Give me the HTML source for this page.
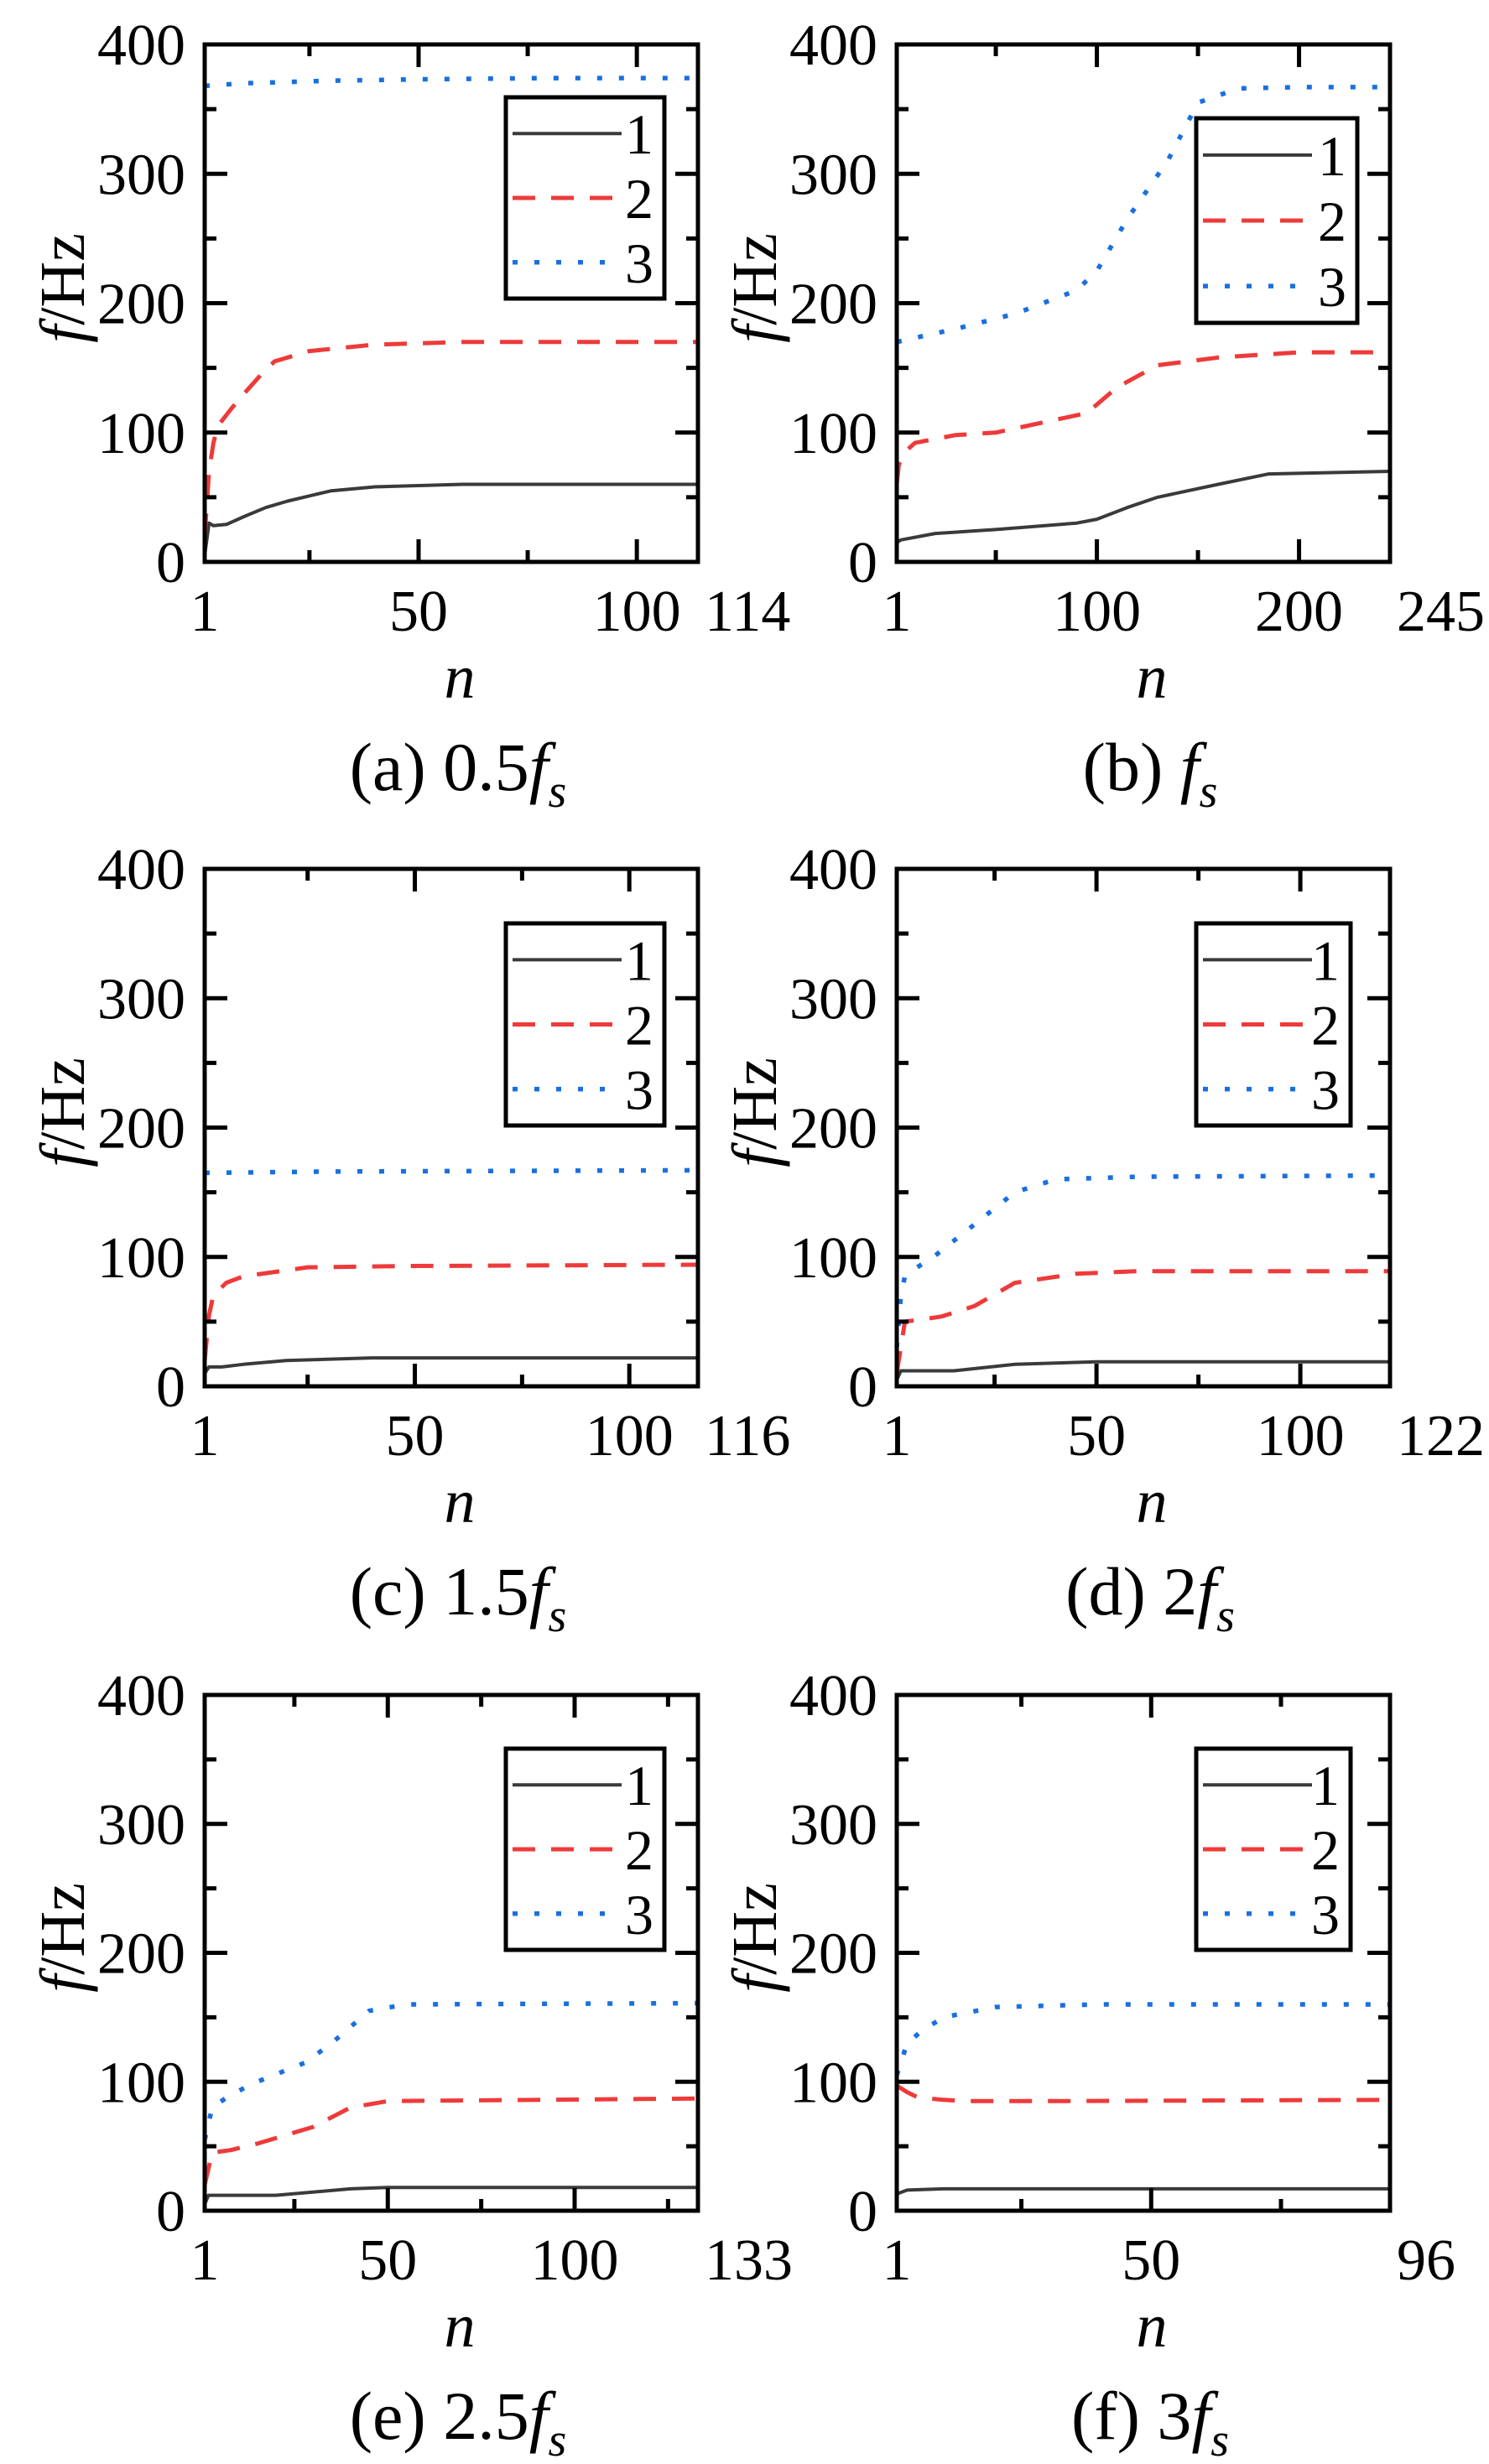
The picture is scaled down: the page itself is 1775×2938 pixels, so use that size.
<!DOCTYPE html>
<html><head><meta charset="utf-8">
<style>
html,body{margin:0;padding:0;background:#fff}
svg{display:block}
text{font-family:"Liberation Serif",serif;fill:#000}
</style></head>
<body>
<svg id="fig" width="1775" height="2938" viewBox="0 0 1775 2938" xmlns="http://www.w3.org/2000/svg"></svg>
<script>
// ---- data ----
const panelIds = ['a','b','c','d','e','f'];
const captions = ['0.5','','1.5','2','2.5','3'];
const xMaxes = [114,245,116,122,133,96];
const xMajor = [[1,50,100],[1,100,200],[1,50,100],[1,50,100],[1,50,100],[1,50]];
const xMinor = [[25,75],[50,150],[25,75],[25,75],[25,75,125],[25,75]];
const yTicks = [0,100,200,300,400];
const seriesNames = ['1','2','3'];
const a1n=[1,2,3,6,10,15,20,25,30,40,50,60,80,114], a1f=[5,30,28,29,35,42,47,51,55,58,59,60,60,60];
const a2n=[1,2,3,4,7,10,14,17,25,40,60,114], a2f=[20,70,92,105,118,130,145,155,163,168,170,170];
const a3n=[1,10,30,50,80,114], a3f=[368,370,372,373,374,374];
const b1n=[1,3,20,50,90,100,115,130,160,185,245], b1f=[15,17,22,25,30,33,42,50,60,68,70];
const b2n=[1,2,5,10,30,50,80,95,110,130,160,200,245], b2f=[60,75,85,92,98,100,110,115,135,152,158,162,162];
const b3n=[1,15,30,60,90,100,115,135,150,170,200,245], b3f=[170,175,180,192,210,225,265,310,355,366,367,367];
const c1n=[1,2,5,10,20,40,116], c1f=[10,15,15,17,20,22,22];
const c2n=[1,2,3,6,10,25,50,116], c2f=[20,55,70,80,85,92,93,94];
const c3n=[1,30,116], c3f=[165,166,167];
const d1n=[1,2,15,30,50,122], d1f=[5,12,12,17,19,19];
const d2n=[1,3,8,12,20,30,45,60,122], d2f=[10,50,52,54,62,80,87,89,89];
const d3n=[1,2,3,6,10,20,30,40,60,122], d3f=[30,70,85,92,100,125,150,160,162,163];
const e1n=[1,2,20,40,50,133], e1f=[5,12,12,17,18,18];
const e2n=[1,3,8,15,30,40,50,133], e2f=[20,45,47,52,65,80,85,87];
const e3n=[1,3,8,15,28,35,45,55,133], e3f=[55,80,90,100,115,130,155,160,161];
const f1n=[1,3,10,96], f1f=[13,16,17,17];
const f2n=[1,3,5,10,15,30,96], f2f=[97,92,88,86,85,85,86];
const f3n=[1,3,6,10,20,40,96], f3f=[105,130,140,150,158,160,160];
const seriesN = [[a1n,a2n,a3n],[b1n,b2n,b3n],[c1n,c2n,c3n],[d1n,d2n,d3n],[e1n,e2n,e3n],[f1n,f2n,f3n]];
const seriesF = [[a1f,a2f,a3f],[b1f,b2f,b3f],[c1f,c2f,c3f],[d1f,d2f,d3f],[e1f,e2f,e3f],[f1f,f2f,f3f]];

// ---- layout ----
const NS='http://www.w3.org/2000/svg';
const svg=document.getElementById('fig');
const colX=[[244,832],[1069,1657]];
const rowY=[[53,670],[1036,1653],[2021,2636]];
const legendBoxes=[[603,116,792,356],[1426,141,1618,385],[603,1101,792,1342],[1426,1101,1610,1342],[603,2085,792,2325],[1426,2085,1610,2325]];
const styles=[{c:'#3a3a3a',w:4,d:''},{c:'#ee3a3a',w:5,d:'27 19'},{c:'#1a6fe0',w:5.5,d:'6 20'}];

function mk(tag,attrs,parent){const e=document.createElementNS(NS,tag);for(const k in attrs)e.setAttribute(k,attrs[k]);(parent||svg).appendChild(e);return e;}

panelIds.forEach((id,p)=>{
  const col=p%2,row=Math.floor(p/2);
  const [L,R]=colX[col],[T,B]=rowY[row];
  const xmax=xMaxes[p];
  const X=v=>L+(v-1)/(xmax-1)*(R-L);
  const Y=v=>B-v/400*(B-T);
  const g=mk('g',{});
  
  
  for(let s=0;s<3;s++){
    const pts=seriesN[p][s].map((n,i)=>X(n).toFixed(1)+','+Y(seriesF[p][s][i]).toFixed(1)).join(' ');
    const pl=mk('polyline',{points:pts,fill:'none',stroke:styles[s].c,'stroke-width':styles[s].w,'stroke-dasharray':styles[s].d,'stroke-linejoin':'round'},g);
    
    
  }
  const fr=mk('rect',{x:L,y:T,width:R-L,height:B-T,fill:'none',stroke:'#000','stroke-width':5},g);
  
  
  for(let v=0;v<=400;v+=50){
    const len=v%100===0?27:14;
    mk('line',{x1:L,x2:L+len,y1:Y(v),y2:Y(v),stroke:'#000','stroke-width':5},g);
    mk('line',{x1:R,x2:R-len,y1:Y(v),y2:Y(v),stroke:'#000','stroke-width':5},g);
  }
  yTicks.forEach(v=>{
    const t=mk('text',{x:L-23,y:Y(v)+24,'font-size':70,'text-anchor':'end'},g);
    t.textContent=v;
    
    
  });
  xMajor[p].forEach(v=>{
    mk('line',{x1:X(v),x2:X(v),y1:B,y2:B-27,stroke:'#000','stroke-width':5},g);
    mk('line',{x1:X(v),x2:X(v),y1:T,y2:T+27,stroke:'#000','stroke-width':5},g);
    const t=mk('text',{x:X(v),y:B+82,'font-size':70,'text-anchor':'middle'},g);
    t.textContent=v;
    
    
  });
  xMinor[p].forEach(v=>{
    mk('line',{x1:X(v),x2:X(v),y1:B,y2:B-14,stroke:'#000','stroke-width':5},g);
    mk('line',{x1:X(v),x2:X(v),y1:T,y2:T+14,stroke:'#000','stroke-width':5},g);
  });
  const tm=mk('text',{x:R+8,y:B+82,'font-size':70,'text-anchor':'start'},g);
  tm.textContent=xmax;
  
  
  const xt=mk('text',{x:(L+R)/2+10,y:B+162,'font-size':74,'font-style':'italic','text-anchor':'middle'},g);
  xt.textContent='n';
  
  
  const yt=mk('text',{x:0,y:0,'font-size':76,'text-anchor':'middle',transform:`translate(${L-144},${(T+B)/2-18}) rotate(-90)`},g);
  yt.innerHTML='<tspan font-style="italic">f</tspan>/Hz';
  
  
  const cap=mk('text',{x:(L+R)/2+8,y:B+272,'font-size':82,'text-anchor':'middle'},g);
  cap.innerHTML='('+id+') '+captions[p]+'<tspan font-style="italic">f</tspan><tspan font-style="italic" font-size="56" dy="20">s</tspan>';
  
  
  const [lx1,ly1,lx2,ly2]=legendBoxes[p];
  const lg=mk('g',{},g);
  
  
  mk('rect',{x:lx1,y:ly1,width:lx2-lx1,height:ly2-ly1,fill:'#fff',stroke:'#000','stroke-width':5},lg);
  const fr3=[0.18,0.5,0.82];
  for(let s=0;s<3;s++){
    const yy=ly1+(ly2-ly1)*fr3[s];
    const ent=mk('g',{},lg);
    
    
    mk('line',{x1:lx1+8,x2:lx1+138,y1:yy,y2:yy,stroke:styles[s].c,'stroke-width':styles[s].w,'stroke-dasharray':styles[s].d},ent);
    const t=mk('text',{x:lx2-30,y:yy+24,'font-size':68,'text-anchor':'middle'},ent);
    t.textContent=seriesNames[s];
  }
});
</script>
</body></html>
